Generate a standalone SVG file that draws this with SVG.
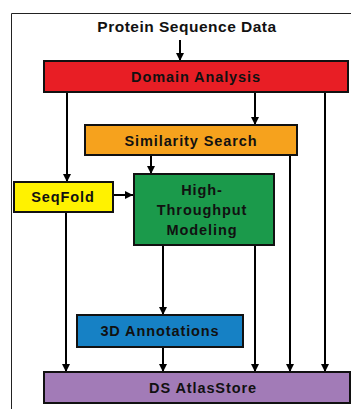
<svg xmlns="http://www.w3.org/2000/svg" width="351" height="409" viewBox="0 0 351 409">
<style>
.box{stroke:#111;stroke-width:2}
.t{font-family:"Liberation Sans",Arial,sans-serif;font-weight:bold;font-size:14.5px;fill:#111;text-anchor:middle;letter-spacing:0.9px}
.c{stroke:#000;stroke-width:2;fill:none}
</style>
<defs>
<marker id="ah" viewBox="0 0 8 8" refX="8" refY="4" markerWidth="4" markerHeight="4" orient="auto" markerUnits="strokeWidth">
<path d="M0,0 L8,4 L0,8 Z" fill="#000"/>
</marker>
</defs>
<rect width="351" height="409" fill="#fff"/>
<path d="M11.5,409 V13.5 H351" fill="none" stroke="#222" stroke-width="1"/>
<text class="t" x="187" y="32" style="font-size:15.5px;letter-spacing:0.5px">Protein Sequence Data</text>
<g id="connectors">
<path class="c" d="M180,40 V61" marker-end="url(#ah)"/>
<path class="c" d="M67,92 V182" marker-end="url(#ah)"/>
<path class="c" d="M255,92 V125" marker-end="url(#ah)"/>
<path class="c" d="M325,92 V372" marker-end="url(#ah)"/>
<path class="c" d="M151,155 V174" marker-end="url(#ah)"/>
<path class="c" d="M290,155 V372" marker-end="url(#ah)"/>
<path class="c" d="M113,195 H133" marker-end="url(#ah)"/>
<path class="c" d="M66,212 V372" marker-end="url(#ah)"/>
<path class="c" d="M163,245 V315" marker-end="url(#ah)"/>
<path class="c" d="M255,245 V372" marker-end="url(#ah)"/>
<path class="c" d="M163,347 V372" marker-end="url(#ah)"/>
</g>
<g id="domain-analysis">
<rect class="box" x="44" y="61" width="304" height="31" fill="#E81E25"/>
<text class="t" x="196" y="82">Domain Analysis</text>
</g>
<g id="similarity-search">
<rect class="box" x="85" y="125" width="212" height="30" fill="#F6A21D"/>
<text class="t" x="191" y="146">Similarity Search</text>
</g>
<g id="seqfold">
<rect class="box" x="14" y="182" width="99" height="30" fill="#FFF200"/>
<text class="t" x="63" y="202">SeqFold</text>
</g>
<g id="high-throughput-modeling">
<rect class="box" x="134" y="174" width="140" height="71" fill="#1B9A4B"/>
<text class="t" x="202" y="195">High-</text>
<text class="t" x="202" y="215">Throughput</text>
<text class="t" x="202" y="235">Modeling</text>
</g>
<g id="annotations-3d">
<rect class="box" x="77" y="315" width="166" height="32" fill="#1681C5"/>
<text class="t" x="160" y="336">3D Annotations</text>
</g>
<g id="ds-atlasstore">
<rect class="box" x="44" y="372" width="306" height="31" fill="#A27BB7"/>
<text class="t" x="203" y="393">DS AtlasStore</text>
</g>
</svg>
